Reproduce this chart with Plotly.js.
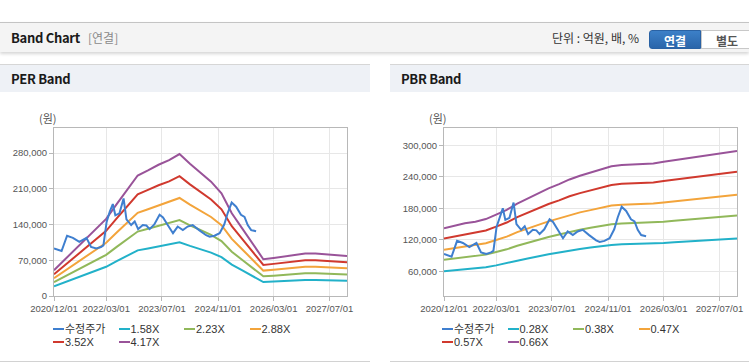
<!DOCTYPE html>
<html><head><meta charset="utf-8">
<script src="https://cdn.plot.ly/plotly-3.0.1.min.js"></script>
<style>
body{margin:0;width:749px;height:364px;position:relative;overflow:hidden;background:#fff;font-family:"Noto Sans CJK KR","Noto Sans",sans-serif;}
.hdr{position:absolute;left:0;top:22px;width:749px;height:29px;background:#f4f4f4;border-top:1px solid #c4c4c4;box-shadow:0 2px 3px rgba(0,0,0,0.16);}
.hdr .t{position:absolute;left:11px;top:0;line-height:29px;font-size:13px;font-weight:bold;color:#1a1a1a;letter-spacing:-0.3px;}
.hdr .s{position:absolute;left:88px;top:0;line-height:29px;font-size:12px;color:#8a8a8a;}
.hdr .u{position:absolute;left:552px;top:0;line-height:29px;font-size:12px;color:#333;}
.btn{position:absolute;top:7px;height:19px;line-height:19px;text-align:center;font-size:12px;font-weight:bold;box-sizing:border-box;}
.b1{left:649px;width:52px;background:linear-gradient(#3c80c8,#2a65aa);color:#fff;border-radius:3px 0 0 3px;border:1px solid #2a62a4;}
.b2{left:701px;width:52px;background:#fff;color:#555;border:1px solid #c8c8c8;}
.ph{position:absolute;top:64px;height:27px;background:#eef1f6;border-top:1px solid #d6d6d6;}
.ph span{position:absolute;left:11px;line-height:27px;font-size:13px;font-weight:bold;color:#1a1a1a;letter-spacing:-0.3px;}
.pb{position:absolute;top:361px;height:1px;background:#d2d2d2;}
.chart{position:absolute;top:92px;height:268px;}
.leg{position:absolute;top:323px;font-size:11px;color:#333;font-family:"Liberation Sans","Noto Sans CJK KR",sans-serif;}
.leg .it{display:inline-block;width:65.5px;height:13.3px;line-height:13.3px;white-space:nowrap;vertical-align:top;}
.leg .ln{display:inline-block;width:11px;height:2px;vertical-align:middle;margin-right:1px;position:relative;top:-1px;}
.leg .tx{font-family:"Liberation Sans","Noto Sans CJK KR",sans-serif;}
</style></head>
<body>
<div class="hdr"><span class="t">Band Chart</span><span class="s">[연결]</span><span class="u">단위 : 억원, 배, %</span>
<div class="btn b1">연결</div><div class="btn b2">별도</div></div>
<div class="ph" style="left:0;width:370px;"><span>PER Band</span></div>
<div class="ph" style="left:390px;width:359px;"><span>PBR Band</span></div>
<div id="per" class="chart" style="left:0;width:370px;"></div>
<div id="pbr" class="chart" style="left:380px;width:369px;"></div>
<div id="legPer" class="leg" style="left:53px;"></div>
<div id="legPbr" class="leg" style="left:442px;"></div>
<div class="pb" style="left:0;width:370px;"></div>
<div class="pb" style="left:390px;width:359px;"></div>
<script>
// ---- data ----
var priceDates = ["2020-12-01","2021-01-10","2021-02-05","2021-03-25","2021-05-15","2021-07-10","2021-08-25","2021-09-10","2021-10-20","2021-12-05","2022-01-15","2022-02-05","2022-03-05","2022-04-01","2022-04-28","2022-05-20","2022-06-25","2022-07-31","2022-08-25","2022-10-05","2022-11-05","2022-12-05","2023-01-15","2023-02-15","2023-03-15","2023-04-25","2023-06-10","2023-07-10","2023-08-20","2023-10-05","2023-11-15","2023-12-30","2024-02-10","2024-03-25","2024-05-20","2024-07-20","2024-08-20","2024-10-01","2024-11-15","2024-12-25","2025-01-25","2025-02-28","2025-04-08","2025-05-20","2025-06-20","2025-07-18","2025-08-17","2025-09-29"];
var priceValues = [93000,90000,88000,118000,114000,106000,112000,114000,96000,93000,96000,99000,145000,165000,180000,158000,162000,191000,150000,139000,146000,131000,139000,138000,131000,140000,159000,154000,139000,123000,136000,129000,136000,139000,129000,119000,116000,118000,123000,140000,163000,183000,175000,159000,155000,139000,129000,127000];

var bandDates = ["2020-12-01","2021-03-01","2021-06-01","2021-09-01","2021-12-01","2022-03-01","2022-06-01","2022-09-01","2022-12-01","2023-03-01","2023-06-01","2023-09-01","2023-12-01","2024-03-01","2024-06-01","2024-09-01","2024-12-01","2025-03-01","2025-06-01","2025-09-01","2025-12-01","2026-03-01","2026-06-01","2026-09-01","2026-12-01","2027-03-01","2027-06-01","2027-09-01","2027-12-01"];

var perNames = ["수정주가","1.58X","2.23X","2.88X","3.52X","4.17X"];
var per158 = [19100,26700,34100,41700,49300,57200,68200,78800,89400,93200,97400,100800,105300,98100,91700,84900,76200,61400,50000,39000,27300,28200,29400,30700,31400,31400,30900,30100,29700];
var per223 = [27000,37700,48100,58800,69500,80700,96300,111200,126200,131600,137400,142200,148700,138500,129400,119800,107500,86600,70600,55100,38500,39800,41400,43300,44400,44400,43600,42500,42000];
var per288 = [34900,48700,62200,76000,89800,104300,124300,143700,163000,169900,177500,183700,192000,178900,167100,154700,138800,111900,91200,71100,49700,51500,53500,55900,57300,57300,56300,54900,54200];
var per352 = [42600,59500,76000,92900,109700,127500,151900,175600,199200,207700,216900,224500,234700,218600,204300,189100,169700,136700,111400,86900,60800,62900,65400,68400,70100,70100,68800,67100,66300];
var per417 = [50500,70500,90000,110000,130000,151000,180000,208000,236000,246000,257000,266000,278000,259000,242000,224000,201000,162000,132000,103000,72000,74500,77500,81000,83000,83000,81500,79500,78500];

var pbrNames = ["수정주가","0.28X","0.38X","0.47X","0.57X","0.66X"];
var pbr028 = [60200,62200,64300,65500,67700,71300,75100,80200,84400,88700,92500,95900,99700,102700,105200,107800,110300,111400,111800,112200,112600,113900,115200,116500,117700,119000,120300,121500,122600];
var pbr038 = [81800,84300,87200,89000,91800,96700,101900,108800,114600,120300,125500,130100,135300,139300,142800,146200,149700,151100,151700,152300,152900,154600,156300,158000,159800,161500,163200,165000,166400];
var pbr047 = [101100,104300,107900,110000,113600,119600,126000,134600,141700,148800,155200,160900,167300,172300,176600,180900,185200,186900,187600,188400,189100,191200,193300,195500,197600,199800,201900,204000,205800];
var pbr057 = [122600,126500,130800,133400,137800,145100,152900,163200,171900,180500,188300,195200,203000,209000,214200,219400,224500,226700,227600,228400,229300,231900,234500,237100,239700,242300,244800,247400,249600];
var pbr066 = [142000,146500,151500,154500,159500,168000,177000,189000,199000,209000,218000,226000,235000,242000,248000,254000,260000,262500,263500,264500,265500,268500,271500,274500,277500,280500,283500,286500,289000];

var seriesColors = ["#3f7fcf","#22b1c9","#91b85a","#f3a43b","#d0392e","#995399"];
var xTickVals = ["2020-12-01","2022-03-01","2023-07-01","2024-11-01","2026-03-01","2027-07-01"];
var xTickText = ["2020/12/01","2022/03/01","2023/07/01","2024/11/01","2026/03/01","2027/07/01"];
var perYTicks = [0,70000,140000,210000,280000];
var pbrYTicks = [60000,120000,180000,240000,300000];
var unitLabel = "(원)";

// ---- build ----
function buildTraces(names, bands){
  var tr = [];
  for (var i=0;i<bands.length;i++){
    tr.push({x:bandDates, y:bands[i], type:'scatter', mode:'lines', name:names[i+1],
      line:{color:seriesColors[i+1], width:2}, hoverinfo:'skip', showlegend:false});
  }
  tr.push({x:priceDates, y:priceValues, type:'scatter', mode:'lines', name:names[0],
    line:{color:seriesColors[0], width:2}, hoverinfo:'skip', showlegend:false});
  return tr;
}
var tickFont = {family:'"Liberation Sans", Arial, sans-serif', size:9.5, color:'#555'};
function buildLayout(l, r, yr, yt){
  return {
    width: (l===54?370:369), height:268,
    margin:{l:l, r:r, t:36, b:64, pad:0},
    paper_bgcolor:'rgba(0,0,0,0)', plot_bgcolor:'#fff',
    showlegend:false,
    xaxis:{type:'date', range:['2020-12-01','2027-12-01'], tickvals:xTickVals, ticktext:xTickText,
      showgrid:true, gridcolor:'#e7e7e7', gridwidth:1, showline:true, mirror:true, linecolor:'#b8b8b8', linewidth:1,
      ticks:'outside', ticklen:4, tickcolor:'#b8b8b8', tickfont:tickFont, zeroline:false, fixedrange:true},
    yaxis:{range:yr, tickvals:yt, tickformat:',d', showgrid:true, gridcolor:'#e7e7e7', gridwidth:1,
      showline:true, mirror:true, linecolor:'#b8b8b8', linewidth:1, ticks:'outside', ticklen:4, tickcolor:'#b8b8b8',
      tickfont:tickFont, zeroline:false, fixedrange:true},
    annotations:[{text:unitLabel, xref:'paper', yref:'paper', x:-0.02, y:1.06, xanchor:'center', yanchor:'middle',
      showarrow:false, font:{family:'"Noto Sans CJK KR", sans-serif', size:11, color:'#555'}}]
  };
}
var cfg = {displayModeBar:false, staticPlot:true};
Plotly.newPlot('per', buildTraces(perNames,[per158,per223,per288,per352,per417]), buildLayout(54,23,[0,329000],perYTicks), cfg);
Plotly.newPlot('pbr', buildTraces(pbrNames,[pbr028,pbr038,pbr047,pbr057,pbr066]), buildLayout(64,12,[13000,333000],pbrYTicks), cfg);

function buildLegend(id, names){
  var el = document.getElementById(id);
  var html = '';
  for (var i=0;i<names.length;i++){
    if (i===4) html += '<br>';
    html += '<span class="it"><span class="ln" style="background:'+seriesColors[i]+'"></span><span class="tx">'+names[i]+'</span></span>';
  }
  el.innerHTML = html;
}
buildLegend('legPer', perNames);
buildLegend('legPbr', pbrNames);
</script>
</body></html>
